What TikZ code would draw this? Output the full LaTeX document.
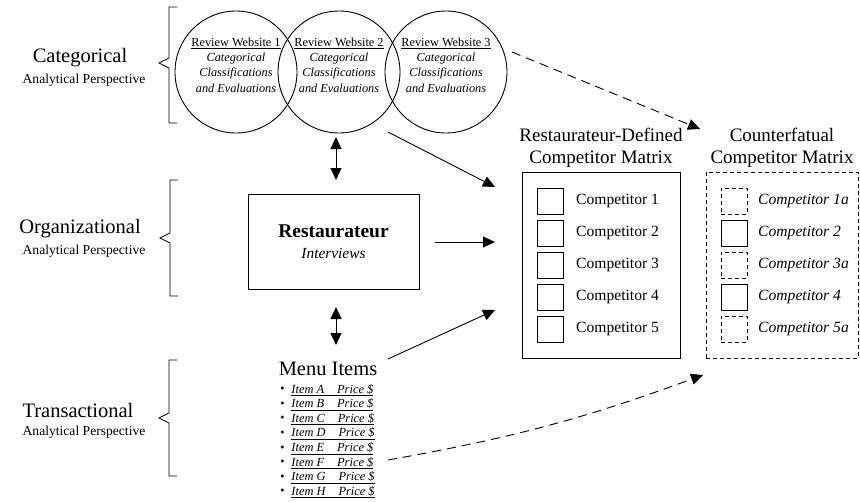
\documentclass[tikz,border=0pt]{standalone}
\usepackage{fontspec}
\setmainfont{Liberation Serif}
\usetikzlibrary{arrows.meta,positioning,calc}

\begin{document}
\begin{tikzpicture}[x=1pt,y=-1pt,>={Triangle[length=12pt,width=11pt]},line width=0.9pt,
    web/.style={circle,draw,minimum size=122pt,inner sep=0pt},
    webtext/.style={align=center,font=\fontsize{12.3}{15.3}\selectfont},
    persp/.style={align=center,font=\fontsize{20.5}{22}\selectfont},
    sub/.style={font=\fontsize{13.6}{15}\selectfont},
    head/.style={align=center,font=\fontsize{19}{22}\selectfont},
    matrixbox/.style={draw,minimum height=186pt,inner sep=0pt},
    sq/.style={draw,minimum size=26pt,inner sep=0pt},
    comp/.style={font=\fontsize{15.6}{17}\selectfont},
    dsh/.style={dash pattern=on 4pt off 3pt},
    ldsh/.style={dash pattern=on 9pt off 6pt}]
    \useasboundingbox (0,0) rectangle (860,501);
    % braces
    \draw[line width=0.8pt] (177,7) -- (169,7) -- (169,58) -- (159,63) -- (169,68) -- (169,123) -- (177,123);
    \draw[line width=0.8pt] (178,180) -- (170,180) -- (170,233) -- (160,238) -- (170,243) -- (170,296) -- (178,296);
    \draw[line width=0.8pt] (177,360) -- (169,360) -- (169,413) -- (159,418) -- (169,423) -- (169,476) -- (177,476);
    % perspective labels
    \node[persp] (cat) at (80,58) {Categorical};
    \node[sub] (catsub) at (84,80) {Analytical Perspective};
    \node[persp] (org) at (80,229) {Organizational};
    \node[sub] (orgsub) at (84,251) {Analytical Perspective};
    \node[persp] (trans) at (78,410) {Transactional};
    \node[sub] (transsub) at (84,432) {Analytical Perspective};
    % review websites
    \foreach \k/\x in {1/236,2/339,3/446}{
      \node[web] (web\k) at (\x,72) {};
      \node[webtext] (web\k txt) at (\x,65) {\underline{Review Website \k}\\ \textit{Categorical}\\ \textit{Classifications}\\ \textit{and Evaluations}};
    }
    % restaurateur
    \node[draw,minimum width=171pt,minimum height=95pt,align=center,font=\fontsize{15.4}{21}\selectfont] (rest) at (333.5,241.5)
      {{\fontsize{19.5}{21}\selectfont\bfseries Restaurateur}\\ \textit{Interviews}};
    % menu items
    \node[font=\fontsize{20.5}{22}\selectfont] (menu) at (328,369) {Menu Items};
    \foreach \l [count=\k] in {A,B,C,D,E,F,G,H}{
      \node[anchor=west,inner sep=0pt,font=\fontsize{12.4}{14}\selectfont] (item\l) at (291,375.4+14.6*\k)
        {\underline{\textit{Item \l\hspace{13pt}Price \$}}};
      \node[left=6pt of item\l,inner sep=0pt,font=\fontsize{12}{12}\selectfont] (bul\l) {\textbullet};
    }
    % competitor matrices
    \node[matrixbox,minimum width=158pt] (rdm) at (601,265) {};
    \node[head,above=0pt of rdm] (rdmhead) {Restaurateur-Defined\\Competitor Matrix};
    \node[matrixbox,dsh,minimum width=152pt] (cfm) at (782,265) {};
    \node[head,above=0pt of cfm] (cfmhead) {Counterfatual\\Competitor Matrix};
    \foreach \k/\y in {1/201,2/233,3/265,4/297,5/329}{
      \node[sq] (rsq\k) at (550,\y) {};
      \node[comp,right=9pt of rsq\k] (rlab\k) {Competitor \k};
    }
    \foreach \k/\y/\st/\lab in {1/201/dsh/1a,2/233/solid/2,3/265/dsh/3a,4/297/solid/4,5/329/dsh/5a}{
      \node[sq,\st] (csq\k) at (734,\y) {};
      \node[comp,right=7pt of csq\k] (clab\k) {\textit{Competitor \lab}};
    }
    % connector ends
    \coordinate (webout) at (388,132);
    \coordinate (rdmtop) at (495,187);
    \coordinate (restout) at (435,242);
    \coordinate (rdmmid) at (495,242);
    \coordinate (menuout) at (388,359);
    \coordinate (rdmlow) at (495,310);
    \coordinate (web3out) at (512,52);
    \coordinate (cfmtop) at (700,129);
    \coordinate (itemout) at (388,460);
    \coordinate (cfmlow) at (703,375);
    \coordinate (upA) at (336,137);
    \coordinate (upB) at (336,180);
    \coordinate (dnA) at (336,307);
    \coordinate (dnB) at (336,345);
    % arrows
    \draw[<->] (upA) -- (upB);
    \draw[<->] (dnA) -- (dnB);
    \draw[->] (webout) -- (rdmtop);
    \draw[->] (restout) -- (rdmmid);
    \draw[->] (menuout) -- (rdmlow);
    \draw[->,ldsh] (web3out) -- (cfmtop);
    \draw[->,ldsh] (itemout) to[bend right=5] (cfmlow);
\end{tikzpicture}
\end{document}
